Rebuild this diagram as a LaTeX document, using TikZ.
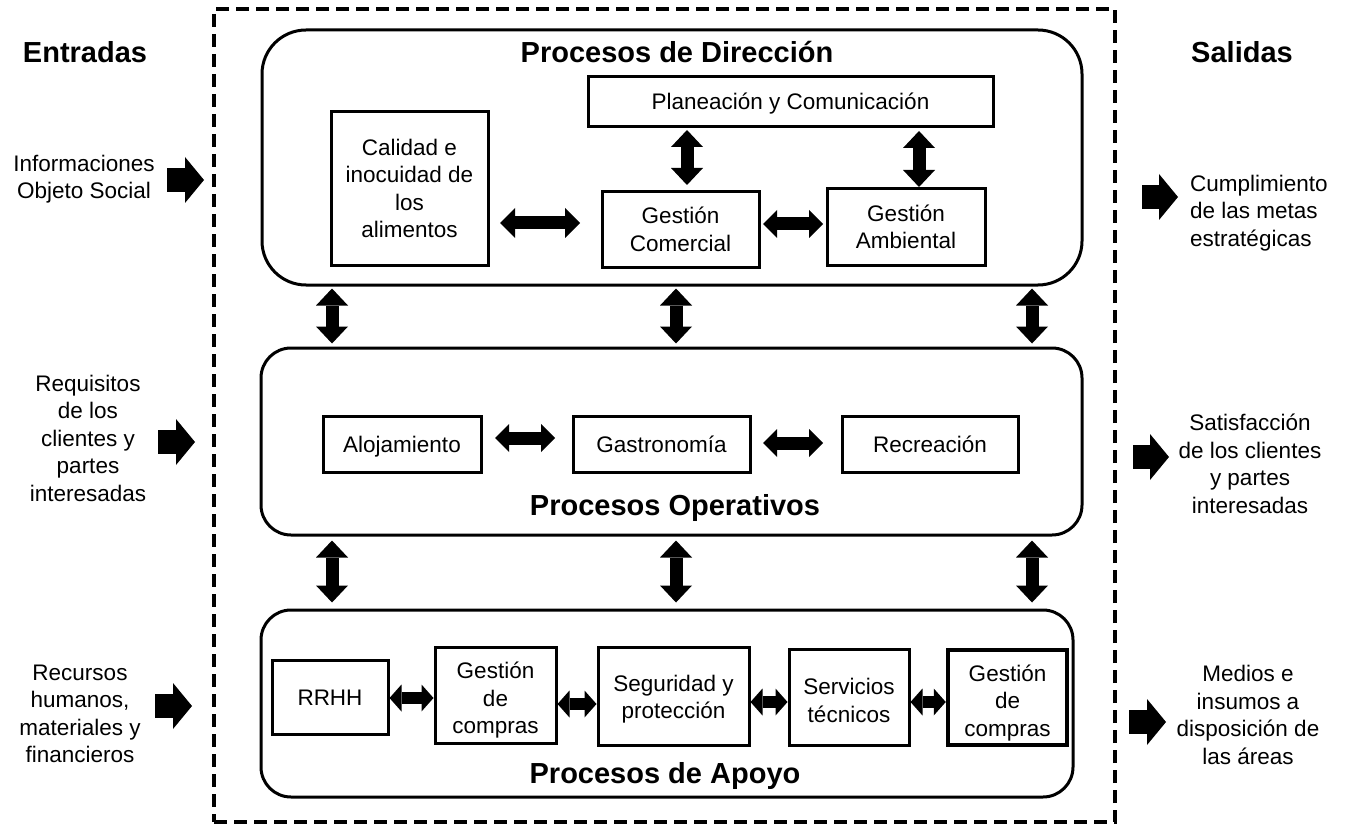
\documentclass[tikz,border=0pt]{standalone}
\usepackage{fontspec}
\setmainfont{Liberation Sans}
\usetikzlibrary{arrows.meta}

\tikzset{
  txt/.style={font=\fontsize{22.5}{27.5}\selectfont, align=center, inner sep=0pt},
  ttl/.style={font=\fontsize{29}{33}\selectfont\bfseries, inner sep=0pt, anchor=base},
  procgroup/.style={draw, line width=3pt, rounded corners=#1, inner sep=0pt},
  stepbox/.style={draw, line width=3pt, txt},
  oneline/.style={text height=16pt, text depth=0pt},
  outerframe/.style={draw, line width=4pt, dash pattern=on 13pt off 7pt, inner sep=0pt},
  fat/.style={line width=13pt,
    {Triangle[length=17pt,width=32pt,line width=0pt]}-{Triangle[length=17pt,width=32pt,line width=0pt]}},
  wide/.style={line width=13pt,
    {Triangle[length=15pt,width=30pt,line width=0pt]}-{Triangle[length=15pt,width=30pt,line width=0pt]}},
  mid/.style={line width=13pt,
    {Triangle[length=14pt,width=28pt,line width=0pt]}-{Triangle[length=14pt,width=28pt,line width=0pt]}},
  small/.style={line width=12pt,
    {Triangle[length=12pt,width=27pt,line width=0pt]}-{Triangle[length=12pt,width=27pt,line width=0pt]}},
  flow/.style={line width=24pt, -{Triangle[length=19pt,width=46pt,line width=0pt]}},
}
% extra room above the first line of a stacked label
\newcommand{\toproom}[1]{\rule{0pt}{#1}}

\begin{document}
\begin{tikzpicture}[x=1pt, y=-1pt]
\useasboundingbox (0,0) rectangle (1348,826);

% dashed frame around the organisation
\node[outerframe, minimum width=901pt, minimum height=813pt] (frame) at (664.5,415.5) {};

% process groups
\node[procgroup=44pt, minimum width=820pt, minimum height=255pt] (dir) at (672,157.5) {};
\node[procgroup=30pt, minimum width=821pt, minimum height=187pt] (ope) at (671.5,441.5) {};
\node[procgroup=30pt, minimum width=812pt, minimum height=187pt] (apo) at (667,703.5) {};

\node[ttl] (tdir) at (677,63) {Procesos de Dirección};
\node[ttl] (tope) at (675,515) {Procesos Operativos};
\node[ttl] (tapo) at (665,783) {Procesos de Apoyo};

\node[ttl] (tin) at (85,63) {Entradas};
\node[ttl] (tout) at (1242,63) {Salidas};

% management processes
\node[stepbox, minimum width=157pt, minimum height=153pt] (calidad) at (409.5,188.5)
  {Calidad e\\inocuidad de\\los\\alimentos};
\node[stepbox, oneline, minimum width=405pt, minimum height=50pt] (plan) at (790.5,102)
  {Planeación y Comunicación};
\node[stepbox, minimum width=157pt, minimum height=75pt] (gcom) at (680.5,229.5)
  {Gestión\\Comercial};
\node[stepbox, minimum width=158pt, minimum height=76pt] (gamb) at (906,227)
  {Gestión\\Ambiental};

% operative processes
\node[stepbox, oneline, minimum width=158pt, minimum height=56pt] (aloj) at (402,444) {Alojamiento};
\node[stepbox, oneline, minimum width=177pt, minimum height=56pt] (gast) at (661.5,444) {Gastronomía};
\node[stepbox, oneline, minimum width=176pt, minimum height=56pt] (recr) at (930,444) {Recreación};

% support processes
\node[stepbox, oneline, minimum width=116pt, minimum height=74pt] (rrhh) at (330,697) {RRHH};
\node[stepbox, minimum width=121pt, minimum height=96pt] (gcomp1) at (495.5,695) {\toproom{27pt}Gestión\\de\\compras};
\node[stepbox, minimum width=151pt, minimum height=98pt] (segu) at (673.5,696) {\toproom{23pt}Seguridad y\\protección};
\node[stepbox, minimum width=120pt, minimum height=96pt] (serv) at (849,697) {\toproom{23pt}Servicios\\técnicos};
\node[stepbox, line width=4.5pt, minimum width=119pt, minimum height=95pt] (gcomp2) at (1007.5,697.5) {\toproom{27pt}Gestión\\de\\compras};

% inputs and outputs
\node[txt] (inp1) at (84,179) {Informaciones\\Objeto Social};
\node[txt] (inp2) at (88,438) {Requisitos\\de los\\clientes y\\partes\\interesadas};
\node[txt] (inp3) at (80,714) {Recursos\\humanos,\\materiales y\\financieros};
\node[txt, align=left, anchor=west] (out1) at (1190,213) {Cumplimiento\\de las metas\\estratégicas};
\node[txt] (out2) at (1250,464) {Satisfacción\\de los clientes\\y partes\\interesadas};
\node[txt] (out3) at (1248,715) {Medios e\\insumos a\\disposición de\\las áreas};

% reference columns and rows for the connectors
\coordinate (colA) at (332,0);
\coordinate (colB) at (676,0);
\coordinate (colC) at (1032,0);
\coordinate (colP) at (687,0);
\coordinate (colQ) at (919,0);
\coordinate (rowA) at (0,223);
\coordinate (rowB) at (0,224);
\coordinate (rowC) at (0,438);
\coordinate (rowD) at (0,443);
\coordinate (rowE) at (0,698);
\coordinate (rowF) at (0,704);
\coordinate (rowG) at (0,702);

% links between the process groups
\foreach \c in {colA,colB,colC}{
  \draw[fat, shorten <=2pt, shorten >=3pt] (\c |- dir.south) -- (\c |- ope.north);
  \draw[fat, shorten <=4pt, shorten >=6pt] (\c |- ope.south) -- (\c |- apo.north);
}

% links inside the management group
\draw[fat, shorten <=1.5pt, shorten >=5.5pt] (colP |- plan.south) -- (colP |- gcom.north);
\draw[fat, shorten <=2.5pt, shorten >=0.5pt] (colQ |- plan.south) -- (colQ |- gamb.north);
\draw[wide, shorten <=10.5pt, shorten >=20.5pt] (calidad.east |- rowA) -- (gcom.west |- rowA);
\draw[mid, shorten <=2.5pt, shorten >=2.5pt] (gcom.east |- rowB) -- (gamb.west |- rowB);

% links inside the operative group
\draw[mid, shorten <=12.5pt, shorten >=16.5pt] (aloj.east |- rowC) -- (gast.west |- rowC);
\draw[mid, shorten <=11.5pt, shorten >=17.5pt] (gast.east |- rowD) -- (recr.west |- rowD);

% links inside the support group
\draw[small] (rrhh.east |- rowE) -- (gcomp1.west |- rowE);
\draw[small] (gcomp1.east |- rowF) -- (segu.west |- rowF);
\draw[small] (segu.east |- rowG) -- (serv.west |- rowG);
\draw[small] (serv.east |- rowG) -- (gcomp2.west |- rowG);

% input and output flows
\coordinate (i1a) at (167,180);  \coordinate (i1b) at (204,180);
\coordinate (i2a) at (158,442);  \coordinate (i2b) at (195,442);
\coordinate (i3a) at (155,706);  \coordinate (i3b) at (192,706);
\coordinate (o1a) at (1142,197); \coordinate (o1b) at (1178,197);
\coordinate (o2a) at (1133,457); \coordinate (o2b) at (1169,457);
\coordinate (o3a) at (1129,722); \coordinate (o3b) at (1166,722);
\draw[flow] (i1a) -- (i1b);
\draw[flow] (i2a) -- (i2b);
\draw[flow] (i3a) -- (i3b);
\draw[flow] (o1a) -- (o1b);
\draw[flow] (o2a) -- (o2b);
\draw[flow] (o3a) -- (o3b);
\end{tikzpicture}
\end{document}
